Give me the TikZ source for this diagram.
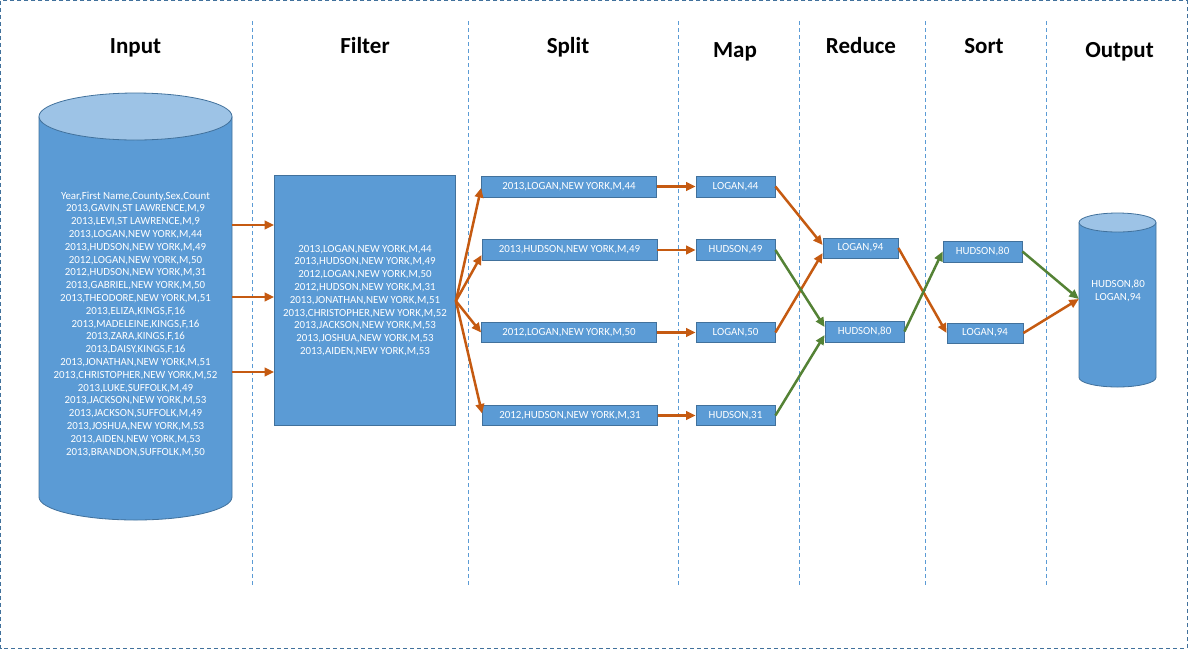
\documentclass[tikz,border=0pt]{standalone}
\usepackage{fontspec}
\setmainfont{Carlito}
\usetikzlibrary{arrows.meta,calc}
\definecolor{boxfill}{HTML}{5B9BD5}
\definecolor{boxline}{HTML}{41719C}
\definecolor{topfill}{HTML}{9DC3E6}
\definecolor{oarrow}{HTML}{C55A11}
\definecolor{garrow}{HTML}{548235}
\definecolor{sepline}{HTML}{5B9BD5}
\begin{document}
\begin{tikzpicture}[x=1pt,y=-1pt,
  title/.style={font=\fontsize{23}{26}\selectfont\bfseries, anchor=base, inner sep=0},
  bx/.style={draw=boxline, fill=boxfill, text=white, line width=0.8pt, inner sep=0,
     font=\fontsize{10.9}{12.8}\selectfont, align=center},
  sep/.style={draw=sepline, line width=0.8pt, dash pattern=on 4pt off 3pt},
  oarr/.style={draw=oarrow, line width=2.5pt, -{Triangle[length=9.5pt,width=8.5pt]}, fill=oarrow},
  garr/.style={draw=garrow, line width=2.5pt, -{Triangle[length=9.5pt,width=8.5pt]}, fill=garrow},
  cyltext/.style={text=white, font=\fontsize{10.9}{12.8}\selectfont, align=center, inner sep=0}
]
\useasboundingbox (0,0) rectangle (1188,649);
% outer border
\draw[draw=boxline, line width=1.2pt, dash pattern=on 4pt off 3pt] (0.8,0.8) rectangle (1187.2,648.2);
% separators
\foreach \xx in {252,468,678,799,925,1046} \draw[sep] (\xx,21) -- (\xx,586);
% titles
\node[title] (tin) at (135.5,53) {Input};
\node[title] (tfi) at (365,53) {Filter};
\node[title] (tsp) at (568,53) {Split};
\node[title] (tma) at (735,57) {Map};
\node[title] (tre) at (861,53) {Reduce};
\node[title] (tso) at (984,53) {Sort};
\node[title] (tou) at (1119.5,57) {Output};
% input cylinder
\fill[boxfill] (39,116.5) -- (39,497) arc[start angle=180,end angle=360,x radius=96.5pt,y radius=23pt] -- (232,116.5) -- cycle;
\draw[boxline, line width=0.8pt] (39,116.5) -- (39,497) arc[start angle=180,end angle=360,x radius=96.5pt,y radius=23pt] -- (232,116.5);
\draw[boxline, fill=topfill, line width=0.8pt] (135.5,116.5) ellipse[x radius=96.5pt, y radius=23.5pt];
\node[minimum width=193pt, minimum height=380pt, inner sep=0] (inp) at (135.5,306) {};
\node[cyltext] (inptext) at (135.5,324) {Year,First Name,County,Sex,Count\\
2013,GAVIN,ST LAWRENCE,M,9\\
2013,LEVI,ST LAWRENCE,M,9\\
2013,LOGAN,NEW YORK,M,44\\
2013,HUDSON,NEW YORK,M,49\\
2012,LOGAN,NEW YORK,M,50\\
2012,HUDSON,NEW YORK,M,31\\
2013,GABRIEL,NEW YORK,M,50\\
2013,THEODORE,NEW YORK,M,51\\
2013,ELIZA,KINGS,F,16\\
2013,MADELEINE,KINGS,F,16\\
2013,ZARA,KINGS,F,16\\
2013,DAISY,KINGS,F,16\\
2013,JONATHAN,NEW YORK,M,51\\
2013,CHRISTOPHER,NEW YORK,M,52\\
2013,LUKE,SUFFOLK,M,49\\
2013,JACKSON,NEW YORK,M,53\\
2013,JACKSON,SUFFOLK,M,49\\
2013,JOSHUA,NEW YORK,M,53\\
2013,AIDEN,NEW YORK,M,53\\
2013,BRANDON,SUFFOLK,M,50};
% filter
\node[bx, minimum width=181pt, minimum height=250pt] (filt) at (365,300.5) {2013,LOGAN,NEW YORK,M,44\\
2013,HUDSON,NEW YORK,M,49\\
2012,LOGAN,NEW YORK,M,50\\
2012,HUDSON,NEW YORK,M,31\\
2013,JONATHAN,NEW YORK,M,51\\
2013,CHRISTOPHER,NEW YORK,M,52\\
2013,JACKSON,NEW YORK,M,53\\
2013,JOSHUA,NEW YORK,M,53\\
2013,AIDEN,NEW YORK,M,53};
% split
\node[bx, minimum width=175pt, minimum height=21pt] (s1) at (569,186.5) {2013,LOGAN,NEW YORK,M,44};
\node[bx, minimum width=175pt, minimum height=21pt] (s2) at (569.5,250) {2013,HUDSON,NEW YORK,M,49};
\node[bx, minimum width=175pt, minimum height=20pt] (s3) at (569,332.5) {2012,LOGAN,NEW YORK,M,50};
\node[bx, minimum width=175pt, minimum height=20pt] (s4) at (570,415.5) {2012,HUDSON,NEW YORK,M,31};
% map
\node[bx, minimum width=79pt, minimum height=21pt] (m1) at (735.5,186.5) {LOGAN,44};
\node[bx, minimum width=79pt, minimum height=21pt] (m2) at (735.5,250) {HUDSON,49};
\node[bx, minimum width=79pt, minimum height=20pt] (m3) at (735.5,332.5) {LOGAN,50};
\node[bx, minimum width=79pt, minimum height=20pt] (m4) at (735.5,415.5) {HUDSON,31};
% reduce
\node[bx, minimum width=75pt, minimum height=20pt] (r1) at (860.5,248) {LOGAN,94};
\node[bx, minimum width=79pt, minimum height=21pt] (r2) at (864.5,331.5) {HUDSON,80};
% sort
\node[bx, minimum width=79pt, minimum height=21pt] (o1) at (982.5,251.5) {HUDSON,80};
\node[bx, minimum width=76pt, minimum height=20pt] (o2) at (985,333) {LOGAN,94};
% output cylinder
\fill[boxfill] (1079,222.5) -- (1079,377.5) arc[start angle=180,end angle=360,x radius=38.5pt,y radius=9.5pt] -- (1156,222.5) -- cycle;
\draw[boxline, line width=0.8pt] (1079,222.5) -- (1079,377.5) arc[start angle=180,end angle=360,x radius=38.5pt,y radius=9.5pt] -- (1156,222.5);
\draw[boxline, fill=topfill, line width=0.8pt] (1117.5,222.5) ellipse[x radius=38.5pt, y radius=9.5pt];
\node[minimum width=77pt, minimum height=150pt, inner sep=0] (outc) at (1117.5,305) {};
\node[cyltext] (outtext) at (1118,291) {HUDSON,80\\LOGAN,94};
% input -> filter
\coordinate (f1) at (filt.west |- 0,225);
\coordinate (f2) at (filt.west |- 0,297);
\coordinate (f3) at (filt.west |- 0,372);
\draw[oarr] (inp.east |- f1) -- (f1);
\draw[oarr] (inp.east |- f2) -- (f2);
\draw[oarr] (inp.east |- f3) -- (f3);
% filter -> split
\coordinate (fo) at ($(filt.east)+(0,0.5)$);
\draw[oarr] (fo) -- ($(s1.west)+(0,1.5)$);
\draw[oarr] (fo) -- ($(s2.west)+(0,5)$);
\draw[oarr] (fo) -- (s3.west);
\draw[oarr] (fo) -- ($(s4.west)+(0,-2)$);
% split -> map
\draw[oarr] (s1) -- (m1);
\draw[oarr] (s2) -- (m2);
\draw[oarr] (s3) -- (m3);
\draw[oarr] (s4) -- (m4);
% map -> reduce
\draw[oarr] (m1.east) -- ($(r1.west)+(0,-3)$);
\draw[oarr] (m3.east) -- ($(r1.west)+(0,5)$);
\draw[garr] (m2.east) -- ($(r2.west)+(0,-4.5)$);
\draw[garr] (m4.east) -- ($(r2.west)+(0,3.5)$);
% reduce -> sort
\draw[oarr] (r1.east) -- (o2.west);
\draw[garr] (r2.east) -- (o1.west);
% sort -> output
\coordinate (oin) at (outc.west |- 0,299);
\draw[garr] (o1.east) -- (oin);
\draw[oarr] (o2.east) -- (oin);
\end{tikzpicture}
\end{document}
